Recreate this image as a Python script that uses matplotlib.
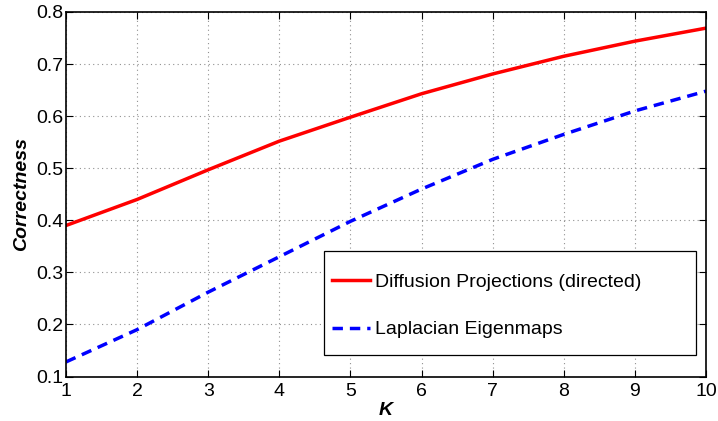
import matplotlib
matplotlib.use("Agg")
import matplotlib.pyplot as plt
from matplotlib.patches import Rectangle

plt.rcParams['font.family'] = ['Liberation Sans', 'DejaVu Sans']

k_values = [1, 2, 3, 4, 5, 6, 7, 8, 9, 10]
diffusion = [0.390, 0.440, 0.497, 0.552, 0.598, 0.643, 0.681, 0.715, 0.744, 0.769]
laplacian = [0.128, 0.190, 0.262, 0.330, 0.398, 0.460, 0.517, 0.565, 0.610, 0.648]
y_ticks = [0.1, 0.2, 0.3, 0.4, 0.5, 0.6, 0.7, 0.8]

fig = plt.figure(figsize=(7.18, 4.21), dpi=100)
ax = fig.add_axes([66 / 718, 1 - 376.5 / 421, 640 / 718, 364.5 / 421])

ax.plot(k_values, diffusion, color='red', lw=2.5, label="Diffusion Projections (directed)")
ax.plot(k_values, laplacian, color='blue', lw=2.5, ls=(0, (3, 2)), label="Laplacian Eigenmaps")

ax.set_xlim(1, 10)
ax.set_ylim(0.1, 0.8)
ax.set_xticks(k_values)
ax.set_yticks(y_ticks)
ax.set_yticklabels([str(t) for t in y_ticks])
ax.grid(True, color='#909090', ls=(0, (1, 3)), lw=0.8)
ax.tick_params(direction='in', top=True, right=True, labelsize=14, length=5, width=0.8)
ax.tick_params(axis='y', pad=2)
ax.tick_params(axis='x', pad=5)
for s in ax.spines.values():
    s.set_linewidth(1.2)

ax.set_xlabel("K", fontsize=14, fontweight='bold', style='italic', labelpad=1)
ax.set_ylabel("Correctness", fontsize=14, fontweight='bold', style='italic', labelpad=4)

# MATLAB style legend: box wider than its content
ax.add_patch(Rectangle((0.403, 0.059), 0.581, 0.285, transform=ax.transAxes,
                       facecolor='white', edgecolor='black', lw=0.9, zorder=5))
leg = ax.legend(loc='upper left', bbox_to_anchor=(0.4156, 0.284), fontsize=14,
                frameon=False, handlelength=1.95, borderpad=0, labelspacing=1.55,
                handletextpad=0.25, borderaxespad=0)
leg.set_zorder(6)

fig.savefig("out.png", dpi=100)
